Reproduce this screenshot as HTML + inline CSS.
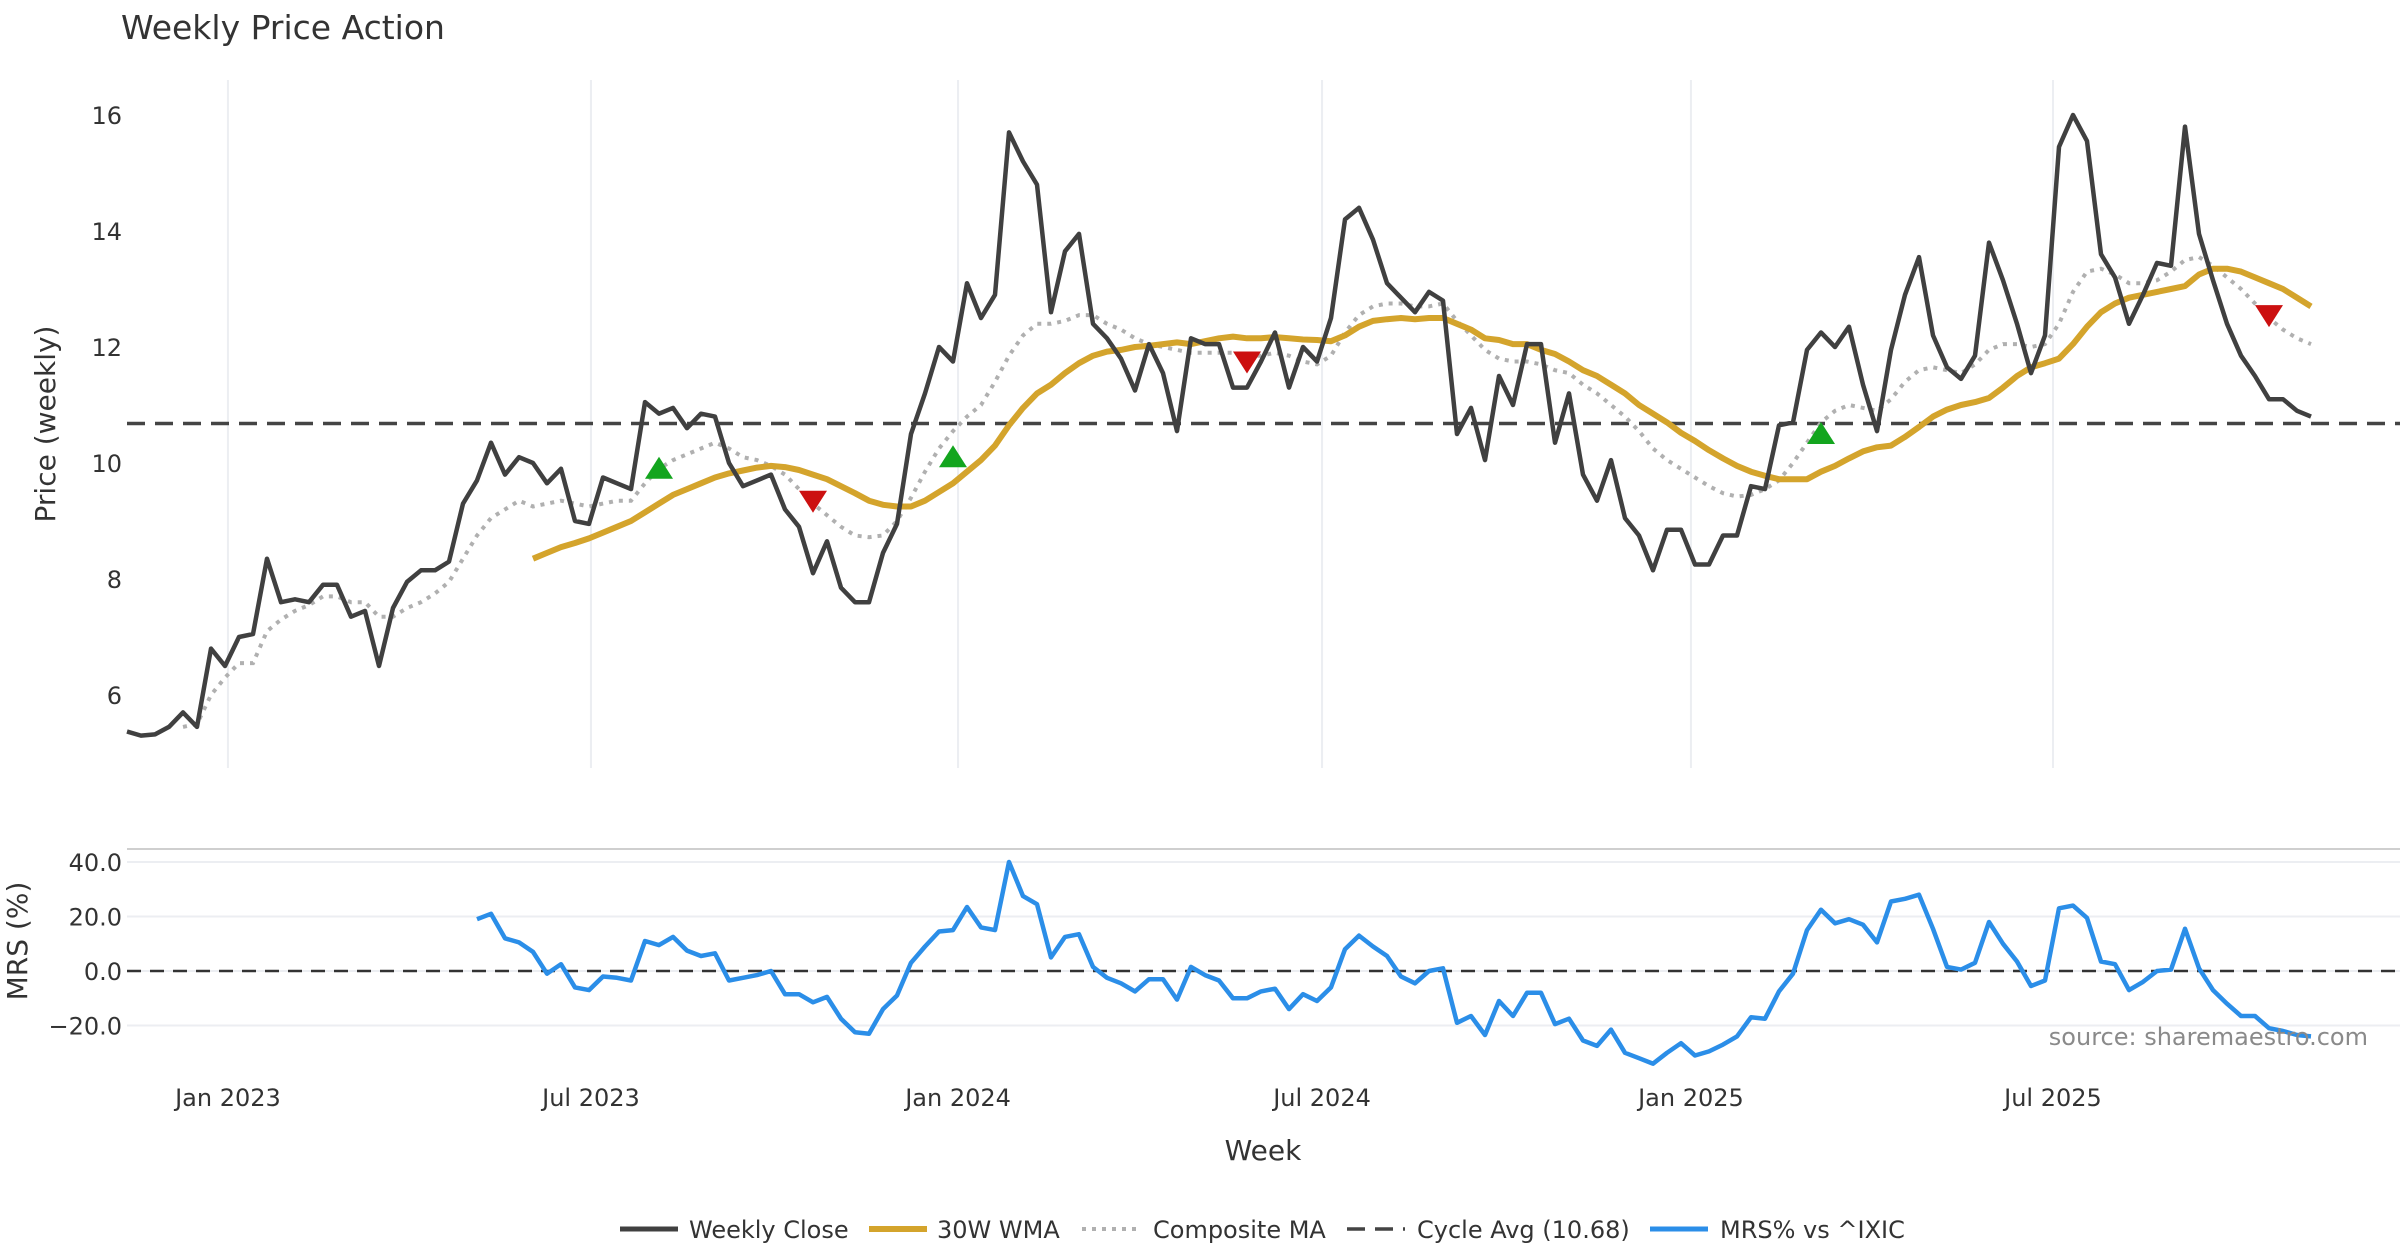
<!DOCTYPE html>
<html><head><meta charset="utf-8"><title>Weekly Price Action</title>
<style>
html,body{margin:0;padding:0;background:#fff;}
svg{display:block;font-family:"DejaVu Sans","Liberation Sans",sans-serif;}
</style></head>
<body>
<svg id="chart" width="2400" height="1260" viewBox="0 0 2400 1260" xmlns="http://www.w3.org/2000/svg">
<text x="121" y="39" font-size="33" fill="#333">Weekly Price Action</text>
<g id="grid"></g>
<g id="axes"></g>
<g id="series"></g>
<text transform="translate(55,424) rotate(-90)" text-anchor="middle" font-size="28" fill="#333">Price (weekly)</text>
<text transform="translate(27,941) rotate(-90)" text-anchor="middle" font-size="28" fill="#333">MRS (%)</text>
<text x="1263" y="1160" text-anchor="middle" font-size="28" fill="#333">Week</text>
<text x="2368" y="1045" text-anchor="end" font-size="24" fill="#8a8a8a">source: sharemaestro.com</text>
<g font-size="24" fill="#333">
  <g><line x1="620" y1="1229" x2="678" y2="1229" stroke="#404040" stroke-width="5"/><text x="689" y="1238">Weekly Close</text></g>
  <g><line x1="869" y1="1229" x2="927" y2="1229" stroke="#d4a42c" stroke-width="6"/><text x="937" y="1238">30W WMA</text></g>
  <g><line x1="1082" y1="1229" x2="1140" y2="1229" stroke="#b0b0b0" stroke-width="4" stroke-dasharray="4 6"/><text x="1153" y="1238">Composite MA</text></g>
  <g><line x1="1347" y1="1229" x2="1405" y2="1229" stroke="#444" stroke-width="3.5" stroke-dasharray="18 10"/><text x="1417" y="1238">Cycle Avg (10.68)</text></g>
  <g><line x1="1650" y1="1229" x2="1708" y2="1229" stroke="#2b8ee8" stroke-width="5"/><text x="1720" y="1238">MRS% vs ^IXIC</text></g>
</g>
</svg>
<script>
const closeVals=[5.37,5.3,5.32,5.45,5.7,5.45,6.8,6.5,7.0,7.05,8.35,7.6,7.65,7.6,7.9,7.9,7.35,7.45,6.5,7.5,7.95,8.15,8.15,8.3,9.3,9.7,10.35,9.8,10.1,10.0,9.65,9.9,9.0,8.95,9.75,9.65,9.55,11.05,10.85,10.95,10.6,10.85,10.8,10.0,9.6,9.7,9.8,9.2,8.9,8.1,8.65,7.85,7.6,7.6,8.45,8.95,10.5,11.2,12.0,11.75,13.1,12.5,12.9,15.7,15.2,14.8,12.6,13.65,13.95,12.4,12.15,11.8,11.25,12.05,11.55,10.55,12.15,12.05,12.05,11.3,11.3,11.75,12.25,11.3,12.0,11.75,12.5,14.2,14.4,13.85,13.1,12.85,12.6,12.95,12.8,10.5,10.95,10.05,11.5,11.0,12.05,12.05,10.35,11.2,9.8,9.35,10.05,9.05,8.75,8.15,8.85,8.85,8.25,8.25,8.75,8.75,9.6,9.55,10.65,10.7,11.95,12.25,12.0,12.35,11.35,10.55,11.95,12.9,13.55,12.2,11.65,11.45,11.85,13.8,13.15,12.4,11.55,12.2,15.45,16.0,15.55,13.6,13.2,12.4,12.9,13.45,13.4,15.8,13.95,13.15,12.4,11.85,11.5,11.1,11.1,10.9,10.8];
const wmaStart=29;
const wmaVals=[8.35,8.45,8.55,8.62,8.7,8.8,8.9,9.0,9.15,9.3,9.45,9.55,9.65,9.75,9.82,9.87,9.92,9.95,9.93,9.88,9.8,9.72,9.6,9.48,9.35,9.28,9.25,9.25,9.35,9.5,9.65,9.85,10.05,10.3,10.65,10.95,11.2,11.35,11.55,11.72,11.85,11.92,11.95,12.0,12.02,12.05,12.08,12.05,12.1,12.15,12.18,12.15,12.15,12.17,12.15,12.13,12.12,12.1,12.2,12.35,12.45,12.48,12.5,12.48,12.5,12.5,12.4,12.3,12.15,12.12,12.05,12.05,11.95,11.88,11.75,11.6,11.5,11.35,11.2,11.0,10.85,10.7,10.52,10.38,10.22,10.08,9.95,9.85,9.78,9.72,9.72,9.72,9.85,9.95,10.08,10.2,10.27,10.3,10.45,10.62,10.8,10.92,11.0,11.05,11.12,11.3,11.5,11.65,11.72,11.8,12.05,12.35,12.6,12.75,12.85,12.9,12.95,13.0,13.05,13.25,13.35,13.35,13.3,13.2,13.1,13.0,12.85,12.7];
const compStart=4;
const compVals=[5.45,5.5,6.0,6.3,6.55,6.55,7.1,7.3,7.45,7.55,7.7,7.7,7.6,7.6,7.35,7.35,7.5,7.6,7.75,7.95,8.35,8.75,9.05,9.2,9.35,9.25,9.3,9.35,9.3,9.25,9.3,9.35,9.35,9.65,9.9,10.05,10.15,10.25,10.35,10.25,10.1,10.05,9.95,9.8,9.55,9.3,9.1,8.9,8.75,8.72,8.75,9.0,9.4,9.85,10.25,10.55,10.8,11.0,11.4,11.85,12.2,12.4,12.4,12.45,12.55,12.55,12.4,12.3,12.15,12.05,12.0,11.95,11.9,11.9,11.9,11.9,11.85,11.85,11.9,11.85,11.75,11.7,11.85,12.25,12.55,12.7,12.75,12.75,12.7,12.7,12.75,12.45,12.2,11.95,11.8,11.75,11.75,11.7,11.6,11.55,11.35,11.2,11.0,10.8,10.55,10.25,10.05,9.9,9.75,9.6,9.48,9.42,9.45,9.55,9.7,10.0,10.35,10.7,10.9,11.0,10.95,10.9,11.1,11.4,11.6,11.65,11.6,11.55,11.7,11.95,12.05,12.05,12.0,12.05,12.4,12.95,13.3,13.35,13.25,13.1,13.1,13.15,13.3,13.5,13.55,13.4,13.2,13.0,12.75,12.5,12.3,12.15,12.05];
const mrsStart=25;
const mrsVals=[19,21,12,10.5,7,-1,2.5,-6,-7,-2,-2.5,-3.5,11,9.5,12.5,7.5,5.5,6.5,-3.5,-2.5,-1.5,0,-8.5,-8.5,-11.5,-9.5,-17.5,-22.5,-23,-14,-9,3,9,14.5,15,23.5,16,15,40,27.5,24.5,5,12.5,13.5,1.5,-2.5,-4.5,-7.5,-3,-3,-10.5,1.5,-1.5,-3.5,-10,-10,-7.5,-6.5,-14,-8.5,-11,-6,8,13,9,5.5,-2,-4.5,0,1,-19,-16.5,-23.5,-11,-16.5,-8,-8,-19.5,-17.5,-25.5,-27.5,-21.5,-30,-32,-34,-30,-26.5,-31,-29.5,-27,-24,-17,-17.5,-7.5,-1,15,22.5,17.5,19,17,10.5,25.5,26.5,28,15.5,1.5,0.5,3,18,10,3.5,-5.5,-3.5,23,24,19.5,3.5,2.5,-7,-4,0,0.5,15.5,1,-7,-12,-16.5,-16.5,-21,-22,-23.5,-24];
const cycleAvg=10.68;
const buyIdx=[38,59,121], buyPrice=[9.9,10.1,10.5];
const sellIdx=[49,80,153], sellPrice=[9.35,11.75,12.55];
const priceTicks=[6,8,10,12,14,16];
const mrsTicks=[40,20,0,-20];
const mrsTickLabels=["40.0","20.0","0.0","\u221220.0"];
const xTickIdx=[7.21,33.14,59.36,85.36,111.71,137.57];
const xTickLabels=["Jan 2023","Jul 2023","Jan 2024","Jul 2024","Jan 2025","Jul 2025"];

const NS="http://www.w3.org/2000/svg";
const X0=127, DX=14.0;
const xs=i=>X0+i*DX;
const yP=v=>115+(16-v)*58;
const yM=v=>971-v*2.725;
function mk(tag,parent,attrs){const e=document.createElementNS(NS,tag);for(const k in attrs)e.setAttribute(k,attrs[k]);parent.appendChild(e);return e;}
const grid=document.getElementById('grid'), axes=document.getElementById('axes'), ser=document.getElementById('series');

xTickIdx.forEach((ix,k)=>{
  const g=mk('line',grid,{x1:xs(ix),x2:xs(ix),y1:80,y2:768,stroke:'#eceef2','stroke-width':2});
  
  
  const t=mk('text',axes,{x:xs(ix),y:1106,'text-anchor':'middle','font-size':24,fill:'#333'});
  t.textContent=xTickLabels[k];
  
  
});
priceTicks.forEach(v=>{
  const t=mk('text',axes,{x:122,y:yP(v)+9,'text-anchor':'end','font-size':24,fill:'#333'});
  t.textContent=v;
  
  
});
const sep=mk('line',axes,{x1:127,x2:2400,y1:849,y2:849,stroke:'#cfcfcf','stroke-width':2});


mrsTicks.forEach((v,k)=>{
  const gl=mk('line',grid,{x1:127,x2:2400,y1:yM(v),y2:yM(v),stroke:'#eceef2','stroke-width':2});
  
  
  const t=mk('text',axes,{x:122,y:yM(v)+9,'text-anchor':'end','font-size':24,fill:'#333'});
  t.textContent=mrsTickLabels[k];
  
  
});
const z=mk('line',ser,{x1:127,x2:2400,y1:yM(0),y2:yM(0),stroke:'#333','stroke-width':2.5,'stroke-dasharray':'14 9'});


const cy=mk('line',ser,{x1:127,x2:2400,y1:yP(cycleAvg),y2:yP(cycleAvg),stroke:'#444','stroke-width':3.5,'stroke-dasharray':'18 10'});



function path(vals,start,yf){return vals.map((v,i)=>(i?'L':'M')+xs(start+i).toFixed(1)+','+yf(v).toFixed(1)).join(' ');}
const pc=mk('path',ser,{d:path(compVals,compStart,yP),fill:'none',stroke:'#b0b0b0','stroke-width':4,'stroke-dasharray':'4 6'});


const pw=mk('path',ser,{d:path(wmaVals,wmaStart,yP),fill:'none',stroke:'#d4a42c','stroke-width':6,'stroke-linejoin':'round'});


const pcl=mk('path',ser,{d:path(closeVals,0,yP),fill:'none',stroke:'#404040','stroke-width':4.5,'stroke-linejoin':'round'});


const pm=mk('path',ser,{d:path(mrsVals,mrsStart,yM),fill:'none',stroke:'#2b8ee8','stroke-width':4.5,'stroke-linejoin':'round'});



buyIdx.forEach((ix,k)=>{
  const x=xs(ix),y=yP(buyPrice[k]);
  const p=mk('polygon',ser,{points:`${x-14},${y+10} ${x+14},${y+10} ${x},${y-12}`,fill:'#13a51e'});
  
  
});
sellIdx.forEach((ix,k)=>{
  const x=xs(ix),y=yP(sellPrice[k]);
  const p=mk('polygon',ser,{points:`${x-14},${y-10} ${x+14},${y-10} ${x},${y+12}`,fill:'#cc1010'});
  
  
});
</script>
</body></html>
